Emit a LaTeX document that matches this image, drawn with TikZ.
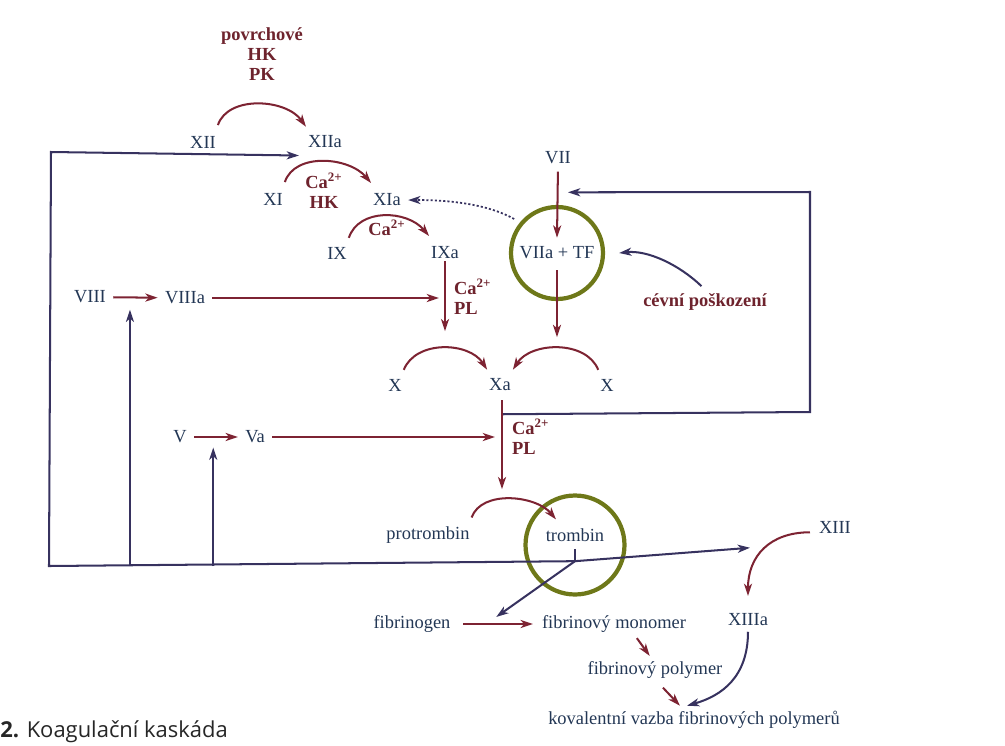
\documentclass[tikz,border=0pt]{standalone}
\usepackage{fontspec}
\setmainfont{Liberation Serif}
\newfontfamily\captionfont{Open Sans}
\usetikzlibrary{arrows.meta,calc}

\begin{document}
\begin{tikzpicture}[x=0.02cm, y=-0.02cm, >={Stealth[length=7pt,width=4.6pt,inset=2pt]}]
            % Define Colors matching the scan
            \definecolor{factorcolor}{RGB}{35, 55, 85}     % factor names
            \definecolor{reactcolor}{RGB}{125, 35, 50}     % activation arrows
            \definecolor{cofactorcolor}{RGB}{110, 35, 45}  % bold cofactor labels
            \definecolor{loopcolor}{RGB}{55, 50, 95}       % feedback lines
            \definecolor{ringcolor}{RGB}{110, 120, 25}     % rings

            \tikzset{
                factor/.style={text=factorcolor, font=\fontsize{10.5}{12.6}\selectfont, inner sep=1pt},
                cofactor/.style={text=cofactorcolor, font=\fontsize{10.5}{11.5}\selectfont\bfseries, inner sep=1pt, align=center},
                react/.style={->, draw=reactcolor, line width=1.15pt},
                feedback/.style={->, draw=loopcolor, line width=1.15pt},
                ring/.style={circle, draw=ringcolor, line width=2.4pt, inner sep=0pt},
            }

            \useasboundingbox (0,0) rectangle (1005,745);

            % --- FACTORS ---
            \foreach \name/\txt/\x/\y in {XII/XII/203/142, XIIa/XIIa/325/142, XI/XI/273/199, XIa/XIa/387/200,
                    IX/IX/337/253, IXa/IXa/445/253, VII/VII/558/158, VIII/VIII/90/297, VIIIa/VIIIa/185/298,
                    Xl/X/395/385, Xa/Xa/500/385, Xr/X/607/385, V/V/180/437, Va/Va/255/437,
                    XIII/XIII/835/527, XIIIa/XIIIa/748/620} {
                    \node[factor] (\name) at (\x,\y) {\txt};
                }
            \node[factor] (tf) at (557,253) {VIIa + TF};
            \node[ring, minimum size=1.84cm] (tfring) at (557,253) {};
            \node[factor] (protrombin) at (428,535) {protrombin};
            \node[factor] (trombin) at (575,535) {trombin};
            \node[ring, minimum size=1.98cm] (trring) at (575,545) {};
            \node[factor] (fibrinogen) at (412,624) {fibrinogen};
            \node[factor] (monomer) at (614,624) {fibrinový monomer};
            \node[factor] (polymer) at (655,670) {fibrinový polymer};
            \node[factor] (kovalent) at (694,720) {kovalentní vazba fibrinových polymerů};

            % Cofactors
            \node[cofactor] (surface) at (262,54) {povrchové\\HK\\PK};
            \node[cofactor] (cahk) at (324,191) {Ca\textsuperscript{2+}\\HK};
            \node[cofactor] (catwo) at (387,228) {Ca\textsuperscript{2+}};
            \node[cofactor, anchor=west, align=left] (capl) at (452,297) {Ca\textsuperscript{2+}\\PL};
            \node[cofactor, anchor=west, align=left] (caplb) at (510,437) {Ca\textsuperscript{2+}\\PL};
            \node[cofactor] (damage) at (705,302) {cévní poškození};

            % Caption
            \node[anchor=base west, font=\captionfont\fontsize{12.5}{14}\selectfont, text=black!85, inner sep=0pt] (caption) at (0,737) {\textbf{2.} Koagulační kaskáda};

            % --- ACTIVATION ARROWS ---
            \draw[react] ([yshift=5pt]XII.north east) .. controls +(10,-30) and +(-20,-28) .. ([yshift=4pt]XIIa.north west);
            \draw[react] ([yshift=5pt]XI.north east) .. controls +(10,-30) and +(-22,-26) .. ([yshift=5pt]XIa.north west);
            \draw[react] ([yshift=4pt]IX.north east) .. controls +(10,-30) and +(-22,-26) .. ([yshift=5pt]IXa.north west);
            \draw[react, shorten <=3pt, shorten >=3pt] (VIII) -- (VIIIa);
            \draw[react, shorten <=3pt] (VIIIa.east) -- ($(VIIIa.east -| IXa.south)+(-6,0)$);
            \draw[react] (IXa.south) -- ++(0,70);
            \draw[react] ([yshift=4pt]Xl.north east) .. controls +(12,-30) and +(-18,-28) .. ([yshift=4pt]Xa.north west);
            \draw[react] ([yshift=4pt]Xr.north west) .. controls +(-12,-30) and +(18,-28) .. ([yshift=4pt]Xa.north east);
            \draw[react, shorten <=3pt] (VII.south) -- ([yshift=4pt]tf.north);
            \draw[react] ([yshift=-5pt]tf.south) -- ++(0,67);
            \draw[react, shorten <=3pt, shorten >=3pt] (V) -- (Va);
            \draw[react, shorten <=3pt] (Va.east) -- ($(Va.east -| Xa.south)+(-5,0)$);
            \draw[react] ($(Xa.south)+(2,7)$) -- ++(0,89);
            \draw[react] ([yshift=4pt]protrombin.north east) .. controls +(10,-28) and +(-20,-24) .. ([shift={(7pt,4pt)}]trombin.north west);
            \draw[react, shorten <=6pt, shorten >=4pt] (fibrinogen.east) -- (monomer.west) coordinate[midway] (onFib);
            \draw[react] ([shift={(13pt,-2pt)}]monomer.south) -- ([shift={(-3pt,2pt)}]polymer.north);
            \draw[react] ([shift={(4.5pt,-4pt)}]polymer.south) -- ([shift={(-8pt,2pt)}]kovalent.north);
            \draw[react] ([shift={(-4pt,-3pt)}]XIII.west) .. controls +(-40,0) and +(0,-40) .. ([yshift=9pt]XIIIa.north);

            % --- FEEDBACK LINES ---
            \coordinate (J) at ([yshift=-10pt]trombin.south);
            \coordinate (cornerSW) at (49,566);
            \coordinate (cornerNW) at (51,152);
            \coordinate (cornerSE) at (810,412);
            \coordinate (cornerNE) at (810,192);
            \coordinate (onVIII) at ($(VIII.east)!0.4!(VIIIa.west)$);
            \coordinate (onV) at ($(V.east)!0.45!(Va.west)$);

            \draw[feedback, -] ([yshift=-3pt]trombin.south) -- (J);
            \draw[feedback] (J) -- (cornerSW) -- (cornerNW) -- ([shift={(-4pt,-3pt)}]XIIa.south west);
            \draw[feedback] (onVIII |- cornerSW) -- ([yshift=-7pt]onVIII);
            \draw[feedback] (onV |- cornerSW) -- ([yshift=-6pt]onV);
            \draw[feedback] (J) -- ($(XIIIa.north)+(2,-64)$);
            \draw[feedback] (J) -- ([yshift=4pt]onFib);
            \draw[feedback] ($(Xa.south)+(3,21)$) -- (cornerSE) -- (cornerNE) -- ($(VII.south)+(10,26)$);
            \draw[feedback] ([shift={(-2pt,3pt)}]damage.north) .. controls +(-23,-22) and +(28,-3) .. ([xshift=8pt]tfring.east);
            \draw[feedback, dash pattern=on 1.2pt off 1.2pt, line width=1pt] ([xshift=-5pt]tfring.north west) .. controls +(-25,-14) and +(45,0) .. ([xshift=3pt]XIa.east);
            \draw[feedback] ([yshift=-2pt]XIIIa.south) .. controls +(0,45) and +(35,-10) .. ([shift={(-4pt,2pt)}]kovalent.north);

        \end{tikzpicture}
\end{document}
